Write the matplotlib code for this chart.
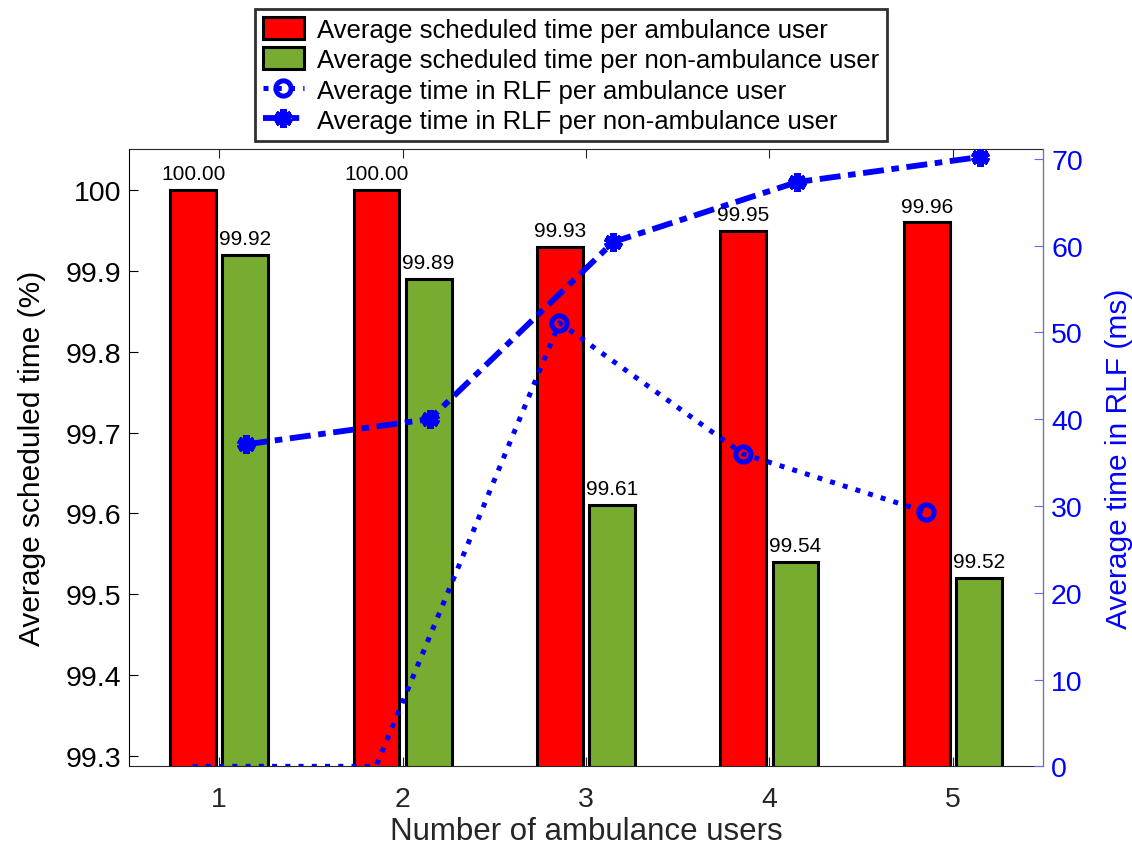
import matplotlib
matplotlib.use("Agg")
import matplotlib.pyplot as plt
import numpy as np

plt.rcParams['font.family'] = ['Liberation Sans', 'DejaVu Sans']

# data
users = [1, 2, 3, 4, 5]
sched_amb = [100.00, 100.00, 99.93, 99.95, 99.96]
sched_non = [99.92, 99.89, 99.61, 99.54, 99.52]
rlf_amb = [0.0, 0.0, 51.1, 36.0, 29.3]
rlf_non = [37.1, 40.0, 60.4, 67.3, 70.2]
left_ticks = [99.3, 99.4, 99.5, 99.6, 99.7, 99.8, 99.9, 100]
right_ticks = [0, 10, 20, 30, 40, 50, 60, 70]

red = '#ff0000'
green = '#77ac30'
blue = '#0000ff'
dark = '#262626'

x = np.array(users, dtype=float)
off = 0.142
width = 0.25

fig = plt.figure(figsize=(11.32, 8.45), dpi=100)
ax = fig.add_axes([0.1142, 0.0919, 0.8069, 0.7302])

b1 = ax.bar(x - off, sched_amb, width, color=red, edgecolor='black', linewidth=2.2,
            label='Average scheduled time per ambulance user', zorder=2)
b2 = ax.bar(x + off, sched_non, width, color=green, edgecolor='black', linewidth=2.2,
            label='Average scheduled time per non-ambulance user', zorder=2)

for xs, vals in ((x - off, sched_amb), (x + off, sched_non)):
    for xi, v in zip(xs, vals):
        ax.annotate(f'{v:.2f}', (xi, v), xytext=(0, 5), textcoords='offset points',
                    ha='center', va='bottom', fontsize=15, color='black')

ax.set_xlim(0.51, 5.49)
ax.set_ylim(99.287, 100.0505)
ax.set_xticks(users)
ax.set_xticklabels([str(u) for u in users])
ax.set_yticks(left_ticks)
ax.set_yticklabels([f'{t:g}' for t in left_ticks])
ax.tick_params(axis='y', direction='in', length=6.5, width=0.8, labelsize=20.5, colors='black', pad=6)
ax.tick_params(axis='x', direction='in', length=6.5, width=0.8, labelsize=20.5, colors=dark,
               top=True, pad=14)
ax.set_xlabel('Number of ambulance users', fontsize=22.5, color=dark, labelpad=3)
ax.set_ylabel('Average scheduled time (%)', fontsize=21.5, color='black', labelpad=14)
for s in ('top', 'bottom'):
    ax.spines[s].set_color(dark)
    ax.spines[s].set_linewidth(0.8)
ax.spines['left'].set_color('black')
ax.spines['left'].set_linewidth(0.8)

ax2 = ax.twinx()
l1, = ax2.plot(x - 0.145, rlf_amb, linestyle=':', color=blue, linewidth=3.6,
               marker='o', markersize=11, markerfacecolor='none', markeredgewidth=3.6,
               markevery=[2, 3, 4],
               label='Average time in RLF per ambulance user', zorder=3)
l2, = ax2.plot(x + 0.149, rlf_non, color=blue, linewidth=4.2, dashes=(3.6, 1.3, 1.3, 1.3),
               marker=(6, 2, 0), markersize=13, markeredgewidth=5,
               label='Average time in RLF per non-ambulance user', zorder=3)
ax2.set_ylim(0, 71.08)
ax2.set_yticks(right_ticks)
ax2.tick_params(axis='y', direction='in', length=6.5, width=0.8, labelsize=20.5,
                colors='#6666ff', labelcolor=blue, pad=6)
ax2.set_ylabel('Average time in RLF (ms)', fontsize=21.5, color=blue, labelpad=16)
ax2.spines['right'].set_color('#6666ff')
ax2.spines['right'].set_linewidth(0.8)
for s in ('top', 'bottom', 'left'):
    ax2.spines[s].set_visible(False)

leg = fig.legend(handles=[b1, b2, l1, l2], loc='upper left',
                 bbox_to_anchor=(255 / 1132, 1 - 10 / 845), fontsize=18.5,
                 frameon=True, fancybox=False, framealpha=1, edgecolor='#303030',
                 handlelength=1.6, handleheight=0.95, handletextpad=0.5,
                 labelspacing=0.22, borderpad=0.3, borderaxespad=0)
leg.get_frame().set_linewidth(2)

fig.savefig('out.png', dpi=100)
